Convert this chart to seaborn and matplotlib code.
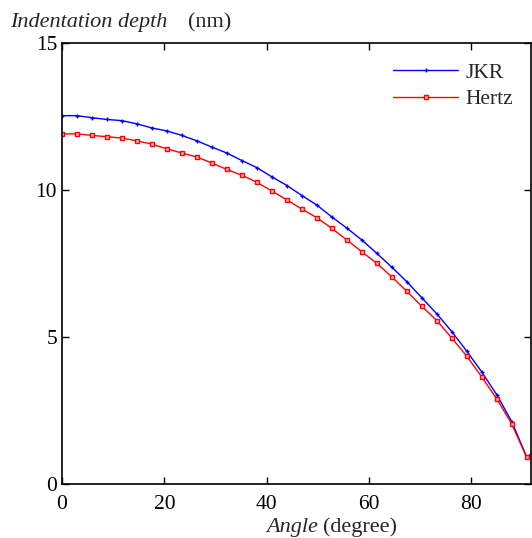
import numpy as np
import pandas as pd
import matplotlib
matplotlib.use("Agg")
import matplotlib.pyplot as plt
import seaborn as sns

# angle (degree) of each sample
angle = [0, 2.9, 5.9, 8.8, 11.7, 14.7, 17.6, 20.5, 23.4, 26.4, 29.3, 32.2,
         35.2, 38.1, 41.0, 44.0, 46.9, 49.8, 52.7, 55.7, 58.6, 61.5, 64.5,
         67.4, 70.3, 73.3, 76.2, 79.1, 82.0, 85.0, 87.9, 90.8, 93.8]

# indentation depth (nm)
jkr = [12.53, 12.53, 12.46, 12.40, 12.36, 12.25, 12.11, 12.01, 11.86, 11.67,
       11.46, 11.26, 11.00, 10.76, 10.45, 10.15, 9.81, 9.49, 9.09, 8.70,
       8.30, 7.85, 7.37, 6.88, 6.34, 5.78, 5.18, 4.52, 3.82, 3.03, 2.12,
       0.93, 1.21]
hertz = [11.91, 11.91, 11.86, 11.81, 11.77, 11.67, 11.56, 11.40, 11.26, 11.12,
         10.92, 10.70, 10.50, 10.26, 9.97, 9.66, 9.35, 9.06, 8.70, 8.30,
         7.90, 7.51, 7.04, 6.55, 6.05, 5.55, 4.96, 4.35, 3.65, 2.89, 2.04,
         0.91]

xticks = [0, 20, 40, 60, 80]
yticks = [0, 5, 10, 15]

sns.set_style("ticks")
plt.rcParams['font.family'] = ['Liberation Serif', 'DejaVu Serif']

fig = plt.figure(figsize=(5.32, 5.38), dpi=100)
ax = fig.add_axes([0.1165, 0.1004, 0.882, 0.8196])

sns.lineplot(x=angle, y=jkr, ax=ax, color='#0000ff', lw=1.0, marker='+',
             markersize=3.5, markeredgecolor='#0000ff', markeredgewidth=1.0,
             label='JKR', sort=False)
sns.lineplot(x=angle[:len(hertz)], y=hertz, ax=ax, color='#ff0000', lw=1.0,
             marker='s', markersize=3.5, markerfacecolor='#ffb0b0',
             markeredgecolor='#ff0000', markeredgewidth=1.0, label='Hertz', sort=False)

ax.set_xlim(0, 91.7)
ax.set_ylim(0, 15)
ax.set_xticks(xticks)
ax.set_yticks(yticks)
ax.tick_params(direction='in', length=5, width=1, labelsize=15.5, top=True, right=True,
               labeltop=False, labelright=False, colors='black')
ax.tick_params(axis='x', pad=8)
for s in ax.spines.values():
    s.set_linewidth(1.2)
    s.set_color('black')

leg = ax.legend(loc='upper left', bbox_to_anchor=(0.706, 0.955), frameon=False,
                fontsize=15.5, handlelength=3.0, borderaxespad=0, borderpad=0,
                labelspacing=0.28, handletextpad=0.37)

fig.text(10 / 532, 1 - 27 / 538, 'Indentation depth', fontsize=16, style='italic',
         ha='left', va='baseline')
fig.text(188 / 532, 1 - 27 / 538, '(nm)', fontsize=16, ha='left', va='baseline')
fig.text(318 / 532, 1 - 532 / 538, 'Angle', fontsize=16, style='italic',
         ha='right', va='baseline')
fig.text(323 / 532, 1 - 532 / 538, '(degree)', fontsize=16, ha='left', va='baseline')

fig.savefig('out.png', dpi=100)
